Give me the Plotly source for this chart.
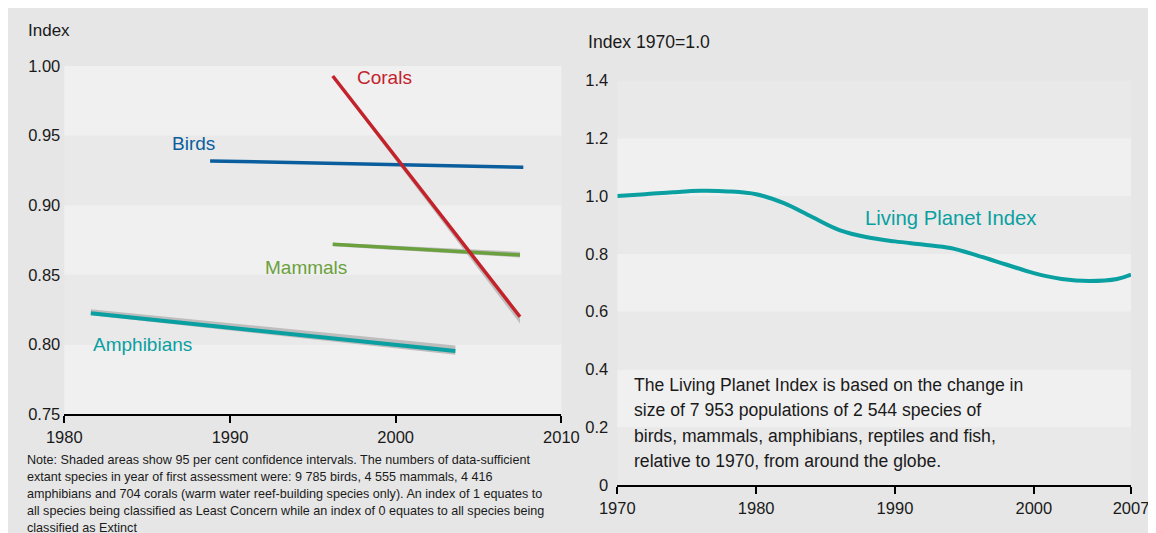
import plotly.graph_objects as go

# ---------------- data ----------------
# Red List Index (left panel): start/end of each trend line
birds_years = [1988.8, 2007.7]
birds_index = [0.9318, 0.9272]
birds_lo = [0.9312, 0.9266]
birds_hi = [0.9324, 0.9278]

mammals_years = [1996.2, 2007.5]
mammals_index = [0.8719, 0.8642]
mammals_lo = [0.8705, 0.8625]
mammals_hi = [0.8730, 0.8665]

corals_years = [1996.2, 2007.5]
corals_index = [0.9928, 0.8199]
corals_lo = [0.9915, 0.8150]
corals_hi = [0.9932, 0.8205]

amphibians_years = [1981.6, 2003.6]
amphibians_index = [0.8223, 0.7953]
amphibians_lo = [0.8210, 0.7925]
amphibians_hi = [0.8252, 0.7992]

# Living Planet Index (right panel)
lpi_years = [1970, 1972, 1974, 1976, 1978, 1980, 1982, 1984, 1986, 1988,
             1990, 1992, 1994, 1996, 1998, 2000, 2002, 2004, 2006, 2007]
lpi_values = [1.000, 1.006, 1.013, 1.018, 1.016, 1.006, 0.975, 0.928, 0.882, 0.857,
              0.843, 0.832, 0.820, 0.793, 0.763, 0.733, 0.713, 0.706, 0.713, 0.728]

left_xticks = [1980, 1990, 2000, 2010]
left_yticks = [0.75, 0.80, 0.85, 0.90, 0.95, 1.00]
right_xticks = [1970, 1980, 1990, 2000, 2007]
right_yticks = [0, 0.2, 0.4, 0.6, 0.8, 1.0, 1.2, 1.4]
right_yticktext = ["0", "0.2", "0.4", "0.6", "0.8", "1.0", "1.2", "1.4"]

box_lines = ["The Living Planet Index is based on the change in",
             "size of 7 953 populations of 2 544 species of",
             "birds, mammals, amphibians, reptiles and fish,",
             "relative to 1970, from around the globe."]
note_lines = ["Note: Shaded areas show 95 per cent confidence intervals. The numbers of data-sufficient",
              "extant species in year of first assessment were: 9 785 birds, 4 555 mammals, 4 416",
              "amphibians and 704 corals (warm water reef-building species only). An index of 1 equates to",
              "all species being classified as Least Concern while an index of 0 equates to all species being",
              "classified as Extinct"]

# ---------------- styles ----------------
W, H = 1140, 540
OFF = 8  # page body margin
FONT = "Liberation Sans, Arial, sans-serif"
TXT = "#1a1a1a"
TEAL = "#0a9fa1"
RED = "#c4222a"
BLUE = "#0a5e9e"
GREEN = "#6ba03e"
CI = "#bdbdbd"
LIGHT = "#f0f0f0"
DARK = "#e9e9e9"

def fx(px):  # page x -> paper fraction
    return (px - OFF) / W

def fy(py):  # page y -> paper fraction (from bottom)
    return 1 - (py - OFF) / H

fig = go.Figure()

def ci(xs, lo, hi, xa, ya):
    fig.add_trace(go.Scatter(x=[xs[0], xs[1], xs[1], xs[0]], y=[lo[0], lo[1], hi[1], hi[0]],
                             fill="toself", fillcolor=CI, line=dict(width=0), mode="lines",
                             hoverinfo="skip", showlegend=False, xaxis=xa, yaxis=ya))

def line(xs, ys, color, xa, ya, w=3.5, shape="linear"):
    fig.add_trace(go.Scatter(x=xs, y=ys, mode="lines",
                             line=dict(color=color, width=w, shape=shape, smoothing=1.0),
                             showlegend=False, xaxis=xa, yaxis=ya))

ci(amphibians_years, amphibians_lo, amphibians_hi, "x", "y")
ci(mammals_years, mammals_lo, mammals_hi, "x", "y")
ci(corals_years, corals_lo, corals_hi, "x", "y")
ci(birds_years, birds_lo, birds_hi, "x", "y")
line(birds_years, birds_index, BLUE, "x", "y")
line(amphibians_years, amphibians_index, TEAL, "x", "y", w=4)
line(mammals_years, mammals_index, GREEN, "x", "y")
line(corals_years, corals_index, RED, "x", "y")
line(lpi_years, lpi_values, TEAL, "x2", "y2", w=4, shape="spline")

# alternating bands
shapes = []
for i in range(len(left_yticks) - 1):
    shapes.append(dict(type="rect", xref="x domain", yref="y", x0=0, x1=1,
                       y0=left_yticks[i], y1=left_yticks[i + 1],
                       fillcolor=LIGHT if i % 2 == 0 else DARK, line=dict(width=0), layer="below"))
for i in range(len(right_yticks) - 1):
    shapes.append(dict(type="rect", xref="x2 domain", yref="y2", x0=0, x1=1,
                       y0=right_yticks[i], y1=right_yticks[i + 1],
                       fillcolor=DARK if i % 2 == 0 else LIGHT, line=dict(width=0), layer="below"))

def xax(domain, rng, ticks, anchor):
    return dict(domain=domain, range=rng, tickvals=ticks, showline=True, linecolor="black",
                linewidth=2, ticks="outside", ticklen=7, tickwidth=2, tickcolor="black",
                showgrid=False, zeroline=False, tickfont=dict(family=FONT, size=16.5, color=TXT),
                ticklabeloverflow="allow", automargin=False, anchor=anchor, fixedrange=True)

def yax(domain, rng, ticks, anchor, standoff, text=None):
    d = dict(domain=domain, range=rng, tickvals=ticks, showline=False, ticks="",
             showgrid=False, zeroline=False, tickfont=dict(family=FONT, size=16.5, color=TXT),
             ticklabelstandoff=standoff, automargin=False, anchor=anchor, fixedrange=True)
    if text:
        d["ticktext"] = text
    else:
        d["tickformat"] = ".2f"
    return d

ann = []
def lab(text, x, y, color, size=19, xanchor="center", xref="x", yref="y"):
    ann.append(dict(text=text, x=x, y=y, xref=xref, yref=yref, showarrow=False,
                    xanchor=xanchor, yanchor="middle",
                    font=dict(family=FONT, size=size, color=color), align="left"))

lab("Corals", 1999.3, 0.9914, RED)
lab("Birds", 1987.8, 0.944, BLUE)
lab("Mammals", 1994.6, 0.855, GREEN)
lab("Amphibians", 1981.6, 0.800, TEAL, xanchor="left")
lab("Living Planet Index", 1987.7, 0.924, TEAL, size=20.3, xanchor="left", xref="x2", yref="y2")
for i, t in enumerate(box_lines):
    lab(t, fx(632), fy(385 + i * 25.3), TXT, size=17.6, xanchor="left", xref="paper", yref="paper")
for i, t in enumerate(note_lines):
    lab(t, fx(25), fy(460 + i * 17.1), TXT, size=12.6, xanchor="left", xref="paper", yref="paper")
lab("Index", fx(26), fy(30), TXT, size=17, xanchor="left", xref="paper", yref="paper")
lab("Index 1970=1.0", fx(586), fy(42), TXT, size=17.6, xanchor="left", xref="paper", yref="paper")

fig.update_layout(
    width=W, height=H, margin=dict(l=0, r=0, t=0, b=0, autoexpand=False),
    paper_bgcolor="#e6e6e6", plot_bgcolor="rgba(0,0,0,0)",
    xaxis=xax([fx(64.3), fx(561.4)], [1980, 2010], left_xticks, "y"),
    yaxis=yax([fy(414), fy(66)], [0.75, 1.00], left_yticks, "x", 3),
    xaxis2=xax([fx(617.3), fx(1131)], [1970, 2007], right_xticks, "y2"),
    yaxis2=yax([fy(485), fy(80.4)], [0, 1.4], right_yticks, "x2", 8, right_yticktext),
    shapes=shapes, annotations=ann, showlegend=False,
)

fig.write_html("out.html")
